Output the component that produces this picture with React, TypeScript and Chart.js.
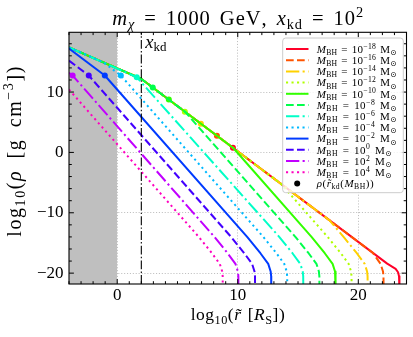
import React, { useEffect, useRef } from 'react';
import { Chart, registerables } from 'chart.js';

Chart.register(...registerables);

const FONT = '"Liberation Serif", "DejaVu Serif", serif';

// ---------- data ----------
const massExponents = [-18, -16, -14, -12, -10, -8, -6, -4, -2, 0, 2, 4];

const curveM18: [number, number][] = [[-4, 17.4], [1.98, 12.2], [22.4, -18.43], [23.1, -19.3], [23.3, -19.85], [23.38, -20.5], [23.41, -21.2], [23.42, -23]];
const curveM16: [number, number][] = [[-4, 17.4], [1.98, 12.2], [21.2, -16.63], [21.85, -18.47], [22.05, -19.72], [22.09, -20.51], [22.1, -23]];
const curveM14: [number, number][] = [[-4, 17.4], [1.98, 12.2], [17.6, -11.23], [18.78, -13.98], [19.88, -16.7], [20.53, -18.47], [20.73, -19.72], [20.77, -20.51], [20.78, -23]];
const curveM12: [number, number][] = [[-4, 17.4], [1.98, 12.2], [13.6, -5.23], [17.45, -13.98], [18.55, -16.7], [19.2, -18.47], [19.4, -19.72], [19.44, -20.51], [19.45, -23]];
const curveM10: [number, number][] = [[-4, 17.4], [1.98, 12.2], [9.63, 0.73], [16.12, -13.98], [17.22, -16.7], [17.87, -18.47], [18.07, -19.72], [18.11, -20.51], [18.12, -23]];
const curveM8: [number, number][] = [[-4, 17.4], [1.98, 12.2], [5.64, 6.71], [14.78, -13.98], [15.88, -16.7], [16.53, -18.47], [16.73, -19.72], [16.77, -20.51], [16.78, -23]];
const curveM6: [number, number][] = [[-4, 17.4], [1.62, 12.45], [13.44, -13.98], [14.54, -16.7], [15.19, -18.47], [15.39, -19.72], [15.43, -20.51], [15.44, -23]];
const curveM4: [number, number][] = [[-4, 17.4], [-1.17, 14.94], [0.3, 12.74], [12.11, -13.98], [13.21, -16.7], [13.86, -18.47], [14.06, -19.72], [14.1, -20.51], [14.11, -23]];
const curveM2: [number, number][] = [[-4, 17.2], [-1.03, 12.74], [10.78, -13.98], [11.88, -16.7], [12.53, -18.47], [12.73, -19.72], [12.77, -20.51], [12.78, -23]];
const curveP0: [number, number][] = [[-4, 15.2], [-2.36, 12.74], [9.44, -13.98], [10.54, -16.7], [11.19, -18.47], [11.39, -19.72], [11.43, -20.51], [11.44, -23]];
const curveP2: [number, number][] = [[-4, 13.19], [-3.7, 12.74], [8.06, -13.98], [9.16, -16.7], [9.81, -18.47], [10.01, -19.72], [10.05, -20.51], [10.06, -23]];
const curveP4: [number, number][] = [[-4, 10.42], [6.76, -13.98], [7.86, -16.7], [8.51, -18.47], [8.71, -19.72], [8.75, -20.51], [8.76, -23]];

const curves = [curveM18, curveM16, curveM14, curveM12, curveM10, curveM8, curveM6, curveM4, curveM2, curveP0, curveP2, curveP4];

// rho at r_kd(M_BH) for each mass
const kdX = [9.6, 8.27, 6.94, 5.61, 4.28, 2.95, 1.62, 0.3, -1.03, -2.36, -3.7, -5.03];
const kdY = [0.77, 2.76, 4.76, 6.75, 8.75, 10.75, 12.45, 12.74, 12.74, 12.74, 12.74, 12.74];

const xkdValue = 2; // log10(x_kd)
const shadeRange = [-4, 0];
const xRange = [-4, 24];
const yRange = [-21.8, 19.9];
const xTickValues = [0, 10, 20];
const yTickValues = [-20, -10, 0, 10];

// ---------- styles ----------
const lineColors = ['#ff0029', '#ff5400', '#ffd100', '#afff00', '#32ff00', '#00ff4b', '#00ffc7', '#00b9ff', '#003bff', '#4300ff', '#c100ff', '#ff00bf'];
const dashPatterns: number[][] = [[], [7.7, 3.3], [13.3, 3.3, 2.1, 3.3], [2.1, 3.4]];
const LW = 2;

type Seg = { t: string; it?: boolean; s?: 'sub' | 'sup' };

function fontFor(g: Seg, size: number) {
  const sz = g.s ? size * 0.7 : size;
  return `${g.it ? 'italic ' : ''}${sz}px ${FONT}`;
}
function tokens(t: string): string[] {
  return t.match(/\P{M}\p{M}*/gu) || [];
}
function drawRich(ctx: CanvasRenderingContext2D, segs: Seg[], x: number, y: number, size: number, align: 'left' | 'center', target?: number) {
  let natural = 0;
  let nSpace = 0;
  let nGlyph = 0;
  for (const g of segs) {
    ctx.font = fontFor(g, size);
    for (const tk of tokens(g.t)) {
      natural += ctx.measureText(tk).width;
      if (tk === ' ') nSpace++; else nGlyph++;
    }
  }
  const W = 4 * nSpace + Math.max(nGlyph - 1, 0);
  const unit = target && W > 0 ? (target - natural) / W : 0;
  const total = target ? target : natural;
  let cx = align === 'center' ? x - total / 2 : x;
  ctx.textAlign = 'left';
  ctx.textBaseline = 'alphabetic';
  for (const g of segs) {
    ctx.font = fontFor(g, size);
    const dy = g.s === 'sub' ? size * 0.2 : g.s === 'sup' ? -size * 0.38 : 0;
    for (const tk of tokens(g.t)) {
      const w = ctx.measureText(tk).width;
      if (tk === ' ') {
        cx += w + 4 * unit;
        continue;
      }
      ctx.fillText(tk, cx, y + dy);
      cx += w + unit;
    }
  }
}
const fmtNum = (v: number) => (v < 0 ? '\u2212' + Math.abs(v) : String(v));

const titleSegs: Seg[] = [{ t: 'm', it: true }, { t: 'χ', it: true, s: 'sub' }, { t: ' = 1000 GeV, ' }, { t: 'x', it: true }, { t: 'kd', s: 'sub' }, { t: ' = 10' }, { t: '2', s: 'sup' }];
const xLabelSegs: Seg[] = [{ t: 'log' }, { t: '10', s: 'sub' }, { t: '(' }, { t: 'r\u0303', it: true }, { t: ' [' }, { t: 'R', it: true }, { t: 'S', s: 'sub' }, { t: '])' }];
const yLabelSegs: Seg[] = [{ t: 'log' }, { t: '10', s: 'sub' }, { t: '(' }, { t: 'ρ', it: true }, { t: ' [g cm' }, { t: '\u22123', s: 'sup' }, { t: '])' }];
const xkdSegs: Seg[] = [{ t: 'x', it: true }, { t: 'kd', s: 'sub' }];
const dotLegendSegs: Seg[] = [{ t: 'ρ', it: true }, { t: '(' }, { t: 'r\u0303', it: true }, { t: 'kd', s: 'sub' }, { t: '(' }, { t: 'M', it: true }, { t: 'BH', s: 'sub' }, { t: '))' }];
const massSegs = (e: number): Seg[] => [{ t: 'M', it: true }, { t: 'BH', s: 'sub' }, { t: ' = 10' }, { t: fmtNum(e), s: 'sup' }, { t: ' M' }, { t: '⊙', s: 'sub' }];

const decorPlugin = {
  id: 'decor',
  afterDatasetsDraw(chart: any) {
    const { ctx, chartArea: a, scales } = chart;
    const xs = scales.x;
    const ys = scales.y;
    ctx.save();
    // ticks (inward, all sides)
    ctx.strokeStyle = '#000';
    ctx.lineWidth = 1;
    ctx.setLineDash([]);
    ctx.beginPath();
    for (let v = Math.ceil(xRange[0]); v <= xRange[1]; v += 1) {
      const px = xs.getPixelForValue(v);
      const len = v % 10 === 0 ? 4.9 : 2.8;
      ctx.moveTo(px, a.bottom); ctx.lineTo(px, a.bottom - len);
      ctx.moveTo(px, a.top); ctx.lineTo(px, a.top + len);
    }
    for (let v = -20; v <= yRange[1]; v += 2) {
      const py = ys.getPixelForValue(v);
      const len = v % 10 === 0 ? 4.9 : 2.8;
      ctx.moveTo(a.left, py); ctx.lineTo(a.left + len, py);
      ctx.moveTo(a.right, py); ctx.lineTo(a.right - len, py);
    }
    ctx.stroke();
    // spines
    ctx.lineWidth = 1.1;
    ctx.strokeRect(a.left, a.top, a.right - a.left, a.bottom - a.top);

    // legend
    const LX0 = 282.7, LY0 = 38, LX1 = 403.3, LY1 = 192.7;
    ctx.beginPath();
    ctx.roundRect(LX0, LY0, LX1 - LX0, LY1 - LY0, 3);
    ctx.fillStyle = 'rgba(255,255,255,0.8)';
    ctx.fill();
    ctx.strokeStyle = '#cccccc';
    ctx.lineWidth = 1;
    ctx.stroke();
    const rowH = 11.2;
    massExponents.forEach((e, i) => {
      const ry = 49 + i * rowH;
      ctx.beginPath();
      ctx.strokeStyle = lineColors[i];
      ctx.lineWidth = LW;
      ctx.setLineDash(dashPatterns[i % 4]);
      ctx.moveTo(286, ry); ctx.lineTo(308.5, ry);
      ctx.stroke();
      ctx.setLineDash([]);
      ctx.fillStyle = '#000';
      drawRich(ctx, massSegs(e), 316.7, ry + 3.8, 11, 'left', e < 0 ? 80 : 75);
    });
    const dy = 49 + 12 * rowH;
    ctx.beginPath();
    ctx.fillStyle = '#000';
    ctx.arc(297.2, dy, 3, 0, Math.PI * 2);
    ctx.fill();
    drawRich(ctx, dotLegendSegs, 316.7, dy + 3.8, 11, 'left', 57);

    // texts
    ctx.fillStyle = '#000';
    drawRich(ctx, titleSegs, (a.left + a.right) / 2, 25, 20.5, 'center', 251);
    drawRich(ctx, xLabelSegs, (a.left + a.right) / 2, 320, 17.5, 'center', 94);
    drawRich(ctx, xkdSegs, xs.getPixelForValue(xkdValue) + 4, 47.5, 18.5, 'left');
    ctx.save();
    ctx.translate(21, 151.7);
    ctx.rotate(-Math.PI / 2);
    drawRich(ctx, yLabelSegs, 0, 0, 20, 'center', 170);
    ctx.restore();
    ctx.restore();
  },
};

export default function App() {
  const ref = useRef<HTMLCanvasElement | null>(null);
  useEffect(() => {
    if (!ref.current) return;
    const datasets: any[] = [];
    datasets.push({
      data: [{ x: shadeRange[0], y: yRange[1] }, { x: shadeRange[1], y: yRange[1] }],
      borderWidth: 0,
      borderColor: 'rgba(0,0,0,0)',
      backgroundColor: '#bfbfbf',
      fill: 'start',
      pointRadius: 0,
      order: 1000,
    });
    curves.forEach((c, i) => {
      // marker drawn just before its own curve
      datasets.push({
        data: [{ x: kdX[i], y: kdY[i] }],
        showLine: false,
        pointRadius: 3,
        pointBackgroundColor: lineColors[i],
        pointBorderWidth: 0,
        pointBorderColor: lineColors[i],
        order: 101 - 2 * i,
      });
      datasets.push({
        data: c.map(([x, y]) => ({ x, y })),
        borderColor: lineColors[i],
        borderWidth: LW,
        borderDash: dashPatterns[i % 4],
        borderJoinStyle: 'round',
        borderCapStyle: 'butt',
        pointRadius: 0,
        fill: false,
        tension: 0,
        order: 100 - 2 * i,
      });
    });
    datasets.push({
      data: [{ x: xkdValue, y: yRange[0] }, { x: xkdValue, y: yRange[1] }],
      borderColor: '#000',
      borderWidth: 1.1,
      borderDash: [8.9, 2.2, 1.4, 2.2],
      pointRadius: 0,
      fill: false,
      order: -1,
    });

    const tickFont = { family: FONT, size: 17 };
    const chart = new Chart(ref.current, {
      type: 'line',
      data: { datasets },
      options: {
        animation: false,
        responsive: false,
        events: [],
        layout: { padding: { left: 0, right: 6.5, top: 32.3, bottom: 0 } },
        plugins: { legend: { display: false }, tooltip: { enabled: false }, title: { display: false } },
        scales: {
          x: {
            type: 'linear',
            min: xRange[0],
            max: xRange[1],
            afterBuildTicks: (s: any) => { s.ticks = xTickValues.map((v) => ({ value: v })); },
            afterFit: (s: any) => { s.height = 53; },
            grid: { color: '#b0b0b0', lineWidth: 0.8, drawTicks: false },
            border: { display: false, dash: [1.1, 1.8] },
            ticks: { font: tickFont, color: '#000', padding: 1, maxRotation: 0, autoSkip: false, callback: (v: any) => fmtNum(Number(v)) },
          },
          y: {
            type: 'linear',
            min: yRange[0],
            max: yRange[1],
            afterBuildTicks: (s: any) => { s.ticks = yTickValues.map((v) => ({ value: v })); },
            afterFit: (s: any) => { s.width = 69; },
            grid: { color: '#b0b0b0', lineWidth: 0.8, drawTicks: false },
            border: { display: false, dash: [1.1, 1.8] },
            ticks: { font: tickFont, color: '#000', padding: 5.5, autoSkip: false, callback: (v: any) => fmtNum(Number(v)) },
          },
        },
      } as any,
      plugins: [decorPlugin as any],
    });
    return () => chart.destroy();
  }, []);
  return (
    <div style={{ position: 'absolute', left: 0, top: 0, width: 413, height: 337 }}>
      <canvas ref={ref} width={413} height={337} style={{ display: 'block' }} />
    </div>
  );
}
